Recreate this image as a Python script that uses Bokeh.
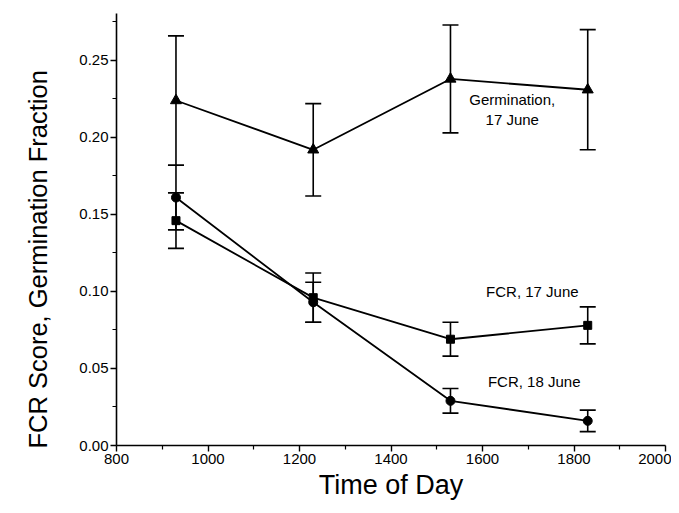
from bokeh.plotting import figure
from bokeh.models import (ColumnDataSource, Whisker, TeeHead, FixedTicker, Range1d,
                          PrintfTickFormatter, Title)
from bokeh.embed import file_html
from bokeh.resources import INLINE
from bokeh.core.properties import value

# ---- data ----
times = [930, 1230, 1530, 1830]
germ = [0.224, 0.192, 0.238, 0.231]
germ_err = [0.042, 0.030, 0.035, 0.039]
fcr17 = [0.146, 0.096, 0.069, 0.078]
fcr17_err = [0.018, 0.016, 0.011, 0.012]
fcr18 = [0.161, 0.093, 0.029, 0.016]
fcr18_err = [0.021, 0.013, 0.008, 0.007]

x_ticks = [800, 1000, 1200, 1400, 1600, 1800, 2000]
x_minor = [900, 1100, 1300, 1500, 1700, 1900]
y_ticks = [0.0, 0.05, 0.10, 0.15, 0.20, 0.25]
y_minor = [0.025, 0.075, 0.125, 0.175, 0.225, 0.275]

labels = ["Germination,", "17 June", "FCR, 17 June", "FCR, 18 June"]
label_x = [1665, 1665, 1709, 1713]
label_y = [0.2247, 0.2117, 0.100, 0.0416]

x_title = "Time of Day"
y_title = "FCR Score, Germination Fraction"

FONT = "Liberation Sans"

p = figure(width=671, height=505, output_backend="svg", toolbar_location=None,
           x_range=Range1d(800, 2000), y_range=Range1d(0, 0.2805),
           min_border_left=116, min_border_right=6, min_border_top=13, min_border_bottom=60)
p.outline_line_color = None
p.xgrid.visible = False
p.ygrid.visible = False
p.background_fill_color = "white"
p.border_fill_color = "white"

def style_axis(ax):
    ax.axis_line_width = 1.6
    ax.axis_line_color = "black"
    ax.major_tick_line_color = "black"
    ax.minor_tick_line_color = "black"
    ax.major_tick_line_width = 1.4
    ax.minor_tick_line_width = 1.2
    ax.major_tick_in = 0
    ax.major_tick_out = 6
    ax.minor_tick_in = 0
    ax.minor_tick_out = 4
    ax.major_label_text_font = FONT
    ax.major_label_text_font_size = "15px"
    ax.major_label_text_color = "black"
    ax.axis_label_text_font = FONT
    ax.axis_label_text_font_size = "27px"
    ax.axis_label_text_font_style = "normal"
    ax.axis_label_text_color = "black"
    ax.major_label_standoff = 2

p.xaxis.ticker = FixedTicker(ticks=x_ticks, minor_ticks=x_minor)
p.yaxis.ticker = FixedTicker(ticks=y_ticks, minor_ticks=y_minor)
p.yaxis.formatter = PrintfTickFormatter(format="%.2f")
style_axis(p.xaxis[0])
style_axis(p.yaxis[0])
p.xaxis.axis_label = x_title
p.xaxis.axis_label_standoff = 3

# y-axis title, placed like the reference (starts near the bottom of the frame)
p.add_layout(Title(text=y_title, align="left", offset=-3, standoff=45,
                   vertical_align="top",
                   text_font=FONT, text_font_size="25.5px", text_font_style="normal",
                   text_color="black"), "left")

series = [
    (germ, germ_err, "triangle", 11),
    (fcr17, fcr17_err, "square", 8),
    (fcr18, fcr18_err, "circle", 9),
]
for vals, errs, marker, size in series:
    src = ColumnDataSource(dict(
        x=times, y=vals,
        upper=[v + e for v, e in zip(vals, errs)],
        lower=[v - e for v, e in zip(vals, errs)],
    ))
    w = Whisker(source=src, base="x", upper="upper", lower="lower",
                line_color="black", line_width=1.6,
                upper_head=TeeHead(size=16, line_color="black", line_width=1.6),
                lower_head=TeeHead(size=16, line_color="black", line_width=1.6))
    p.add_layout(w)
    p.line("x", "y", source=src, line_color="black", line_width=1.8)
    p.scatter("x", "y", source=src, marker=marker, size=size,
              fill_color="black", line_color="black")

lsrc = ColumnDataSource(dict(x=label_x, y=label_y, t=labels))
p.text("x", "y", text="t", source=lsrc, text_font=value(FONT), text_font_size="15px",
       text_align="center", text_baseline="middle", text_color="black")

open("out.html", "w").write(file_html(p, INLINE))
